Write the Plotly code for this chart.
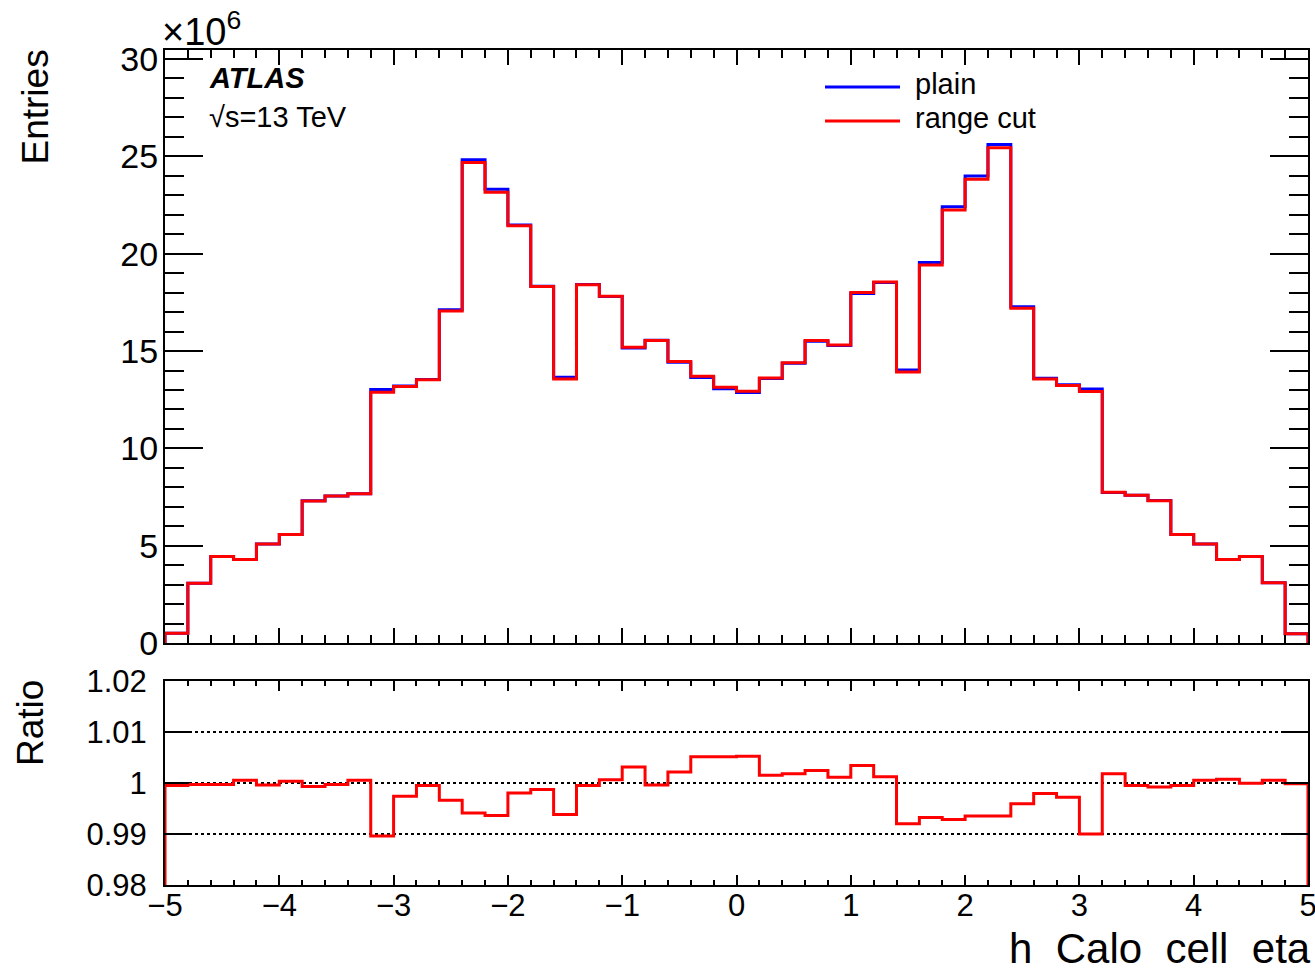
import plotly.graph_objects as go

# ---------------- data ----------------
bin_edges = [round(-5.0 + 0.2 * i, 1) for i in range(51)]

# entries in units of 1e6
plain = [0.51, 3.08, 4.46, 4.30, 5.09, 5.58, 7.31, 7.56, 7.68, 13.02,
         13.21, 13.54, 17.12, 24.82, 23.30, 21.47, 18.33, 13.65, 18.41, 17.80,
         15.15, 15.55, 14.43, 13.64, 13.07, 12.87, 13.59, 14.37, 15.50, 15.29,
         17.95, 18.52, 14.03, 19.55, 22.40, 23.98, 25.60, 17.27, 13.60, 13.27,
         13.05, 7.74, 7.60, 7.33, 5.58, 5.09, 4.30, 4.46, 3.11, 0.49]

range_cut = [0.51, 3.08, 4.46, 4.30, 5.09, 5.58, 7.30, 7.56, 7.68, 12.88,
             13.18, 13.53, 17.06, 24.67, 23.15, 21.43, 18.31, 13.57, 18.40, 17.81,
             15.20, 15.54, 14.46, 13.71, 13.14, 12.94, 13.61, 14.40, 15.54, 15.31,
             18.01, 18.54, 13.92, 19.42, 22.24, 23.82, 25.43, 17.20, 13.57, 13.23,
             12.92, 7.75, 7.60, 7.32, 5.58, 5.09, 4.30, 4.46, 3.11, 0.49]

ratio = [0.9995, 0.9997, 0.9997, 1.0005, 0.9996, 1.0003, 0.9993, 0.9997, 1.0005, 0.9896,
         0.9974, 0.9995, 0.9966, 0.9941, 0.9936, 0.9980, 0.9987, 0.9938, 0.9995, 1.0006,
         1.0031, 0.9996, 1.0021, 1.0051, 1.0051, 1.0052, 1.0015, 1.0018, 1.0024, 1.0011,
         1.0034, 1.0012, 0.9920, 0.9932, 0.9928, 0.9935, 0.9935, 0.9959, 0.9979, 0.9972,
         0.9900, 1.0018, 0.9995, 0.9992, 0.9995, 1.0005, 1.0007, 0.9999, 1.0005, 0.9998]

x_ticks = [-5, -4, -3, -2, -1, 0, 1, 2, 3, 4, 5]
y_ticks_top = [0, 5, 10, 15, 20, 25, 30]
y_ticks_ratio = [0.98, 0.99, 1.0, 1.01, 1.02]
y_ticklabels_ratio = ["0.98", "0.99", "1", "1.01", "1.02"]

# ---------------- layout constants ----------------
W, H = 1315, 970
ML, MR, MT, MB = 165, 7, 50, 85
PW, PH = W - ML - MR, H - MT - MB
TOP_Y0 = 643.3       # pixel of y=0 in top panel
RAT_Y1 = 680.7       # pixel of top of ratio panel
RATIO_MIN, RATIO_MAX = 0.98, 1.02
TOP_MAX = 30.45


def px(xp):
    return (xp - ML) / PW


def py(yp):
    return (H - MB - yp) / PH


FONT = "Liberation Sans, Arial, Helvetica, sans-serif"


def step(values, base):
    xs = [bin_edges[0]] + bin_edges[:-1] + [bin_edges[-1]]
    ys = [base] + list(values) + [base]
    return xs, ys


fig = go.Figure()

xb, yb = step(plain, 0)
fig.add_trace(go.Scatter(x=xb, y=yb, mode="lines", line=dict(color="#0000ff", width=3, shape="hv"),
                         name="plain", showlegend=False, xaxis="x", yaxis="y"))
xr, yr = step(range_cut, 0)
fig.add_trace(go.Scatter(x=xr, y=yr, mode="lines", line=dict(color="#ff0000", width=3, shape="hv"),
                         name="range cut", showlegend=False, xaxis="x", yaxis="y"))
xq, yq = step(ratio, RATIO_MIN)
fig.add_trace(go.Scatter(x=xq, y=yq, mode="lines", line=dict(color="#ff0000", width=3, shape="hv"),
                         name="ratio", showlegend=False, xaxis="x2", yaxis="y2"))

axis_common = dict(showline=True, linecolor="black", linewidth=2, mirror="ticks",
                   ticks="inside", tickcolor="black", tickwidth=2, automargin=False,
                   zeroline=False, showgrid=False, layer="above traces",
                   tickfont=dict(family=FONT, size=31, color="black"))

fig.update_layout(
    width=W, height=H,
    margin=dict(l=ML, r=MR, t=MT, b=MB, autoexpand=False),
    paper_bgcolor="white", plot_bgcolor="white",
    showlegend=False,
    xaxis=dict(axis_common, domain=[0, 1], anchor="y", range=[-5, 5],
               tickvals=x_ticks, ticklen=15, showticklabels=False,
               minor=dict(dtick=0.2, ticklen=8, tickwidth=2, tickcolor="black", ticks="inside"),
               matches="x2"),
    yaxis=dict(axis_common, domain=[py(TOP_Y0), 1], anchor="x", range=[0, TOP_MAX],
               tickvals=y_ticks_top, ticklen=38, ticklabelstandoff=-2,
               tickfont=dict(family=FONT, size=34, color="black"),
               minor=dict(dtick=1, ticklen=19, tickwidth=2, tickcolor="black", ticks="inside")),
    xaxis2=dict(axis_common, domain=[0, 1], anchor="y2", range=[-5, 5],
                tickvals=x_ticks, ticklen=10, ticklabelstandoff=-8, ticklabeloverflow="allow",
                minor=dict(dtick=0.2, ticklen=5, tickwidth=2, tickcolor="black", ticks="inside")),
    yaxis2=dict(axis_common, domain=[0, py(RAT_Y1)], anchor="x2", range=[RATIO_MIN, RATIO_MAX],
                tickvals=y_ticks_ratio, ticktext=y_ticklabels_ratio, ticklen=24, ticklabelstandoff=10,
                showgrid=True, gridcolor="black", gridwidth=1.5, griddash="dot"),
)

ann = []
ann.append(dict(text="Entries", x=px(35), y=py(48), xref="paper", yref="paper",
                textangle=-90, xanchor="center", yanchor="top", showarrow=False,
                font=dict(family=FONT, size=37, color="black")))
ann.append(dict(text="Ratio", x=px(30), y=py(678), xref="paper", yref="paper",
                textangle=-90, xanchor="center", yanchor="top", showarrow=False,
                font=dict(family=FONT, size=37, color="black")))
ann.append(dict(text="h  Calo  cell  eta", x=px(1313), y=py(948), xref="paper", yref="paper",
                xanchor="right", yanchor="middle", showarrow=False,
                font=dict(family=FONT, size=42, color="black")))
ann.append(dict(text="×10<sup>6</sup>", x=px(160), y=py(29), xref="paper", yref="paper",
                xanchor="left", yanchor="middle", showarrow=False,
                font=dict(family=FONT, size=38, color="black")))
ann.append(dict(text="<b><i>ATLAS</i></b>", x=px(207), y=py(78), xref="paper", yref="paper",
                xanchor="left", yanchor="middle", showarrow=False,
                font=dict(family=FONT, size=29, color="black")))
ann.append(dict(text="√s=13 TeV", x=px(207), y=py(117), xref="paper", yref="paper",
                xanchor="left", yanchor="middle", showarrow=False,
                font=dict(family=FONT, size=29, color="black")))
ann.append(dict(text="plain", x=px(913), y=py(84), xref="paper", yref="paper",
                xanchor="left", yanchor="middle", showarrow=False,
                font=dict(family=FONT, size=29, color="black")))
ann.append(dict(text="range cut", x=px(913), y=py(118), xref="paper", yref="paper",
                xanchor="left", yanchor="middle", showarrow=False,
                font=dict(family=FONT, size=29, color="black")))
fig.update_layout(annotations=ann)

shapes = [
    dict(type="line", xref="paper", yref="paper", x0=px(825), x1=px(900), y0=py(87), y1=py(87),
         line=dict(color="#0000ff", width=3)),
    dict(type="line", xref="paper", yref="paper", x0=px(825), x1=px(900), y0=py(121), y1=py(121),
         line=dict(color="#ff0000", width=3)),
]
fig.update_layout(shapes=shapes)

fig.write_html("out.html")
